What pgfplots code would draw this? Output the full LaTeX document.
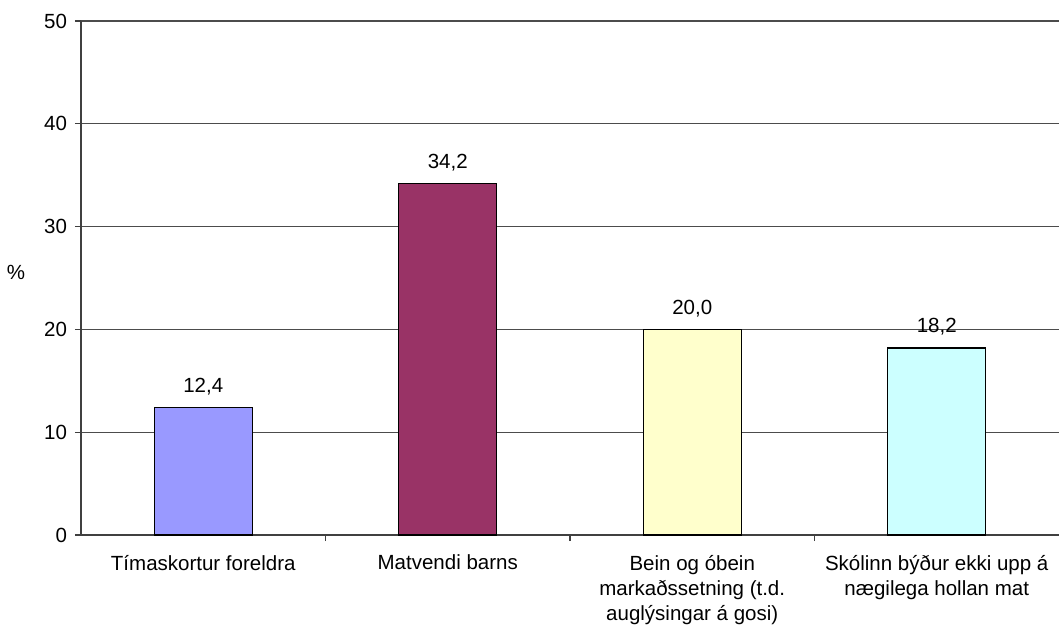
\documentclass[border=0pt]{standalone}
\usepackage{fontspec}
\setmainfont{Liberation Sans}
\usepackage{pgfplots}
\pgfplotsset{compat=1.18}
\definecolor{c1}{HTML}{9999FF}
\definecolor{c2}{HTML}{993366}
\definecolor{c3}{HTML}{FFFFCC}
\definecolor{c4}{HTML}{CCFFFF}
\begin{document}
\fontsize{20.5bp}{25bp}\selectfont
\begin{tikzpicture}
\useasboundingbox (-81bp,-92bp) rectangle (978bp,535bp);
\begin{axis}[
  at={(0,0)}, anchor=south west,
  scale only axis,
  width=978bp, height=514bp,
  xmin=-0.5, xmax=3.5, ymin=0, ymax=50,
  ytick={0,10,...,50},
  xtick={0,1,2,3},
  xticklabels={Tímaskortur foreldra, Matvendi barns, {Bein og óbein\\markaðssetning (t.d.\\auglýsingar á gosi)}, {Skólinn býður ekki upp á\\nægilega hollan mat}},
  x tick label style={align=center, font=\fontsize{20.5bp}{25bp}\selectfont, yshift=-7bp},
  y tick label style={font=\fontsize{20.5bp}{23bp}\selectfont, xshift=-1bp},
  /pgf/number format/assume math mode=true,
  axis x line*=bottom, axis y line*=left,
  axis line style={black!75, line width=1.2bp},
  x axis line style={-}, y axis line style={-},
  tick align=outside,
  major tick length=6bp,
  xtick style={draw=none},
  ytick style={black!75, line width=1.2bp},
  extra x ticks={0.5,1.5,2.5},
  extra x tick labels={},
  extra x tick style={grid=none, xtick style={draw=black!75, line width=1.2bp}},
  ymajorgrids,
  grid style={black!70, line width=1.2bp},
  ybar, bar width=98bp, bar shift=0bp,
  nodes near coords,
  every node near coord/.append style={font=\fontsize{20.5bp}{23bp}\selectfont, yshift=5bp},
  nodes near coords style={/pgf/number format/.cd, fixed, fixed zerofill, precision=1, use comma, assume math mode=true},
  clip=false,
]
\addplot[fill=c1, draw=black, line width=1.2bp] coordinates {(0,12.4)};
\addplot[fill=c2, draw=black, line width=1.2bp] coordinates {(1,34.2)};
\addplot[fill=c3, draw=black, line width=1.2bp] coordinates {(2,20.0)};
\addplot[fill=c4, draw=black, line width=1.2bp] coordinates {(3,18.2)};
\node at (rel axis cs:0,0.51) [xshift=-65bp] {\%};
\end{axis}
\end{tikzpicture}
\end{document}
